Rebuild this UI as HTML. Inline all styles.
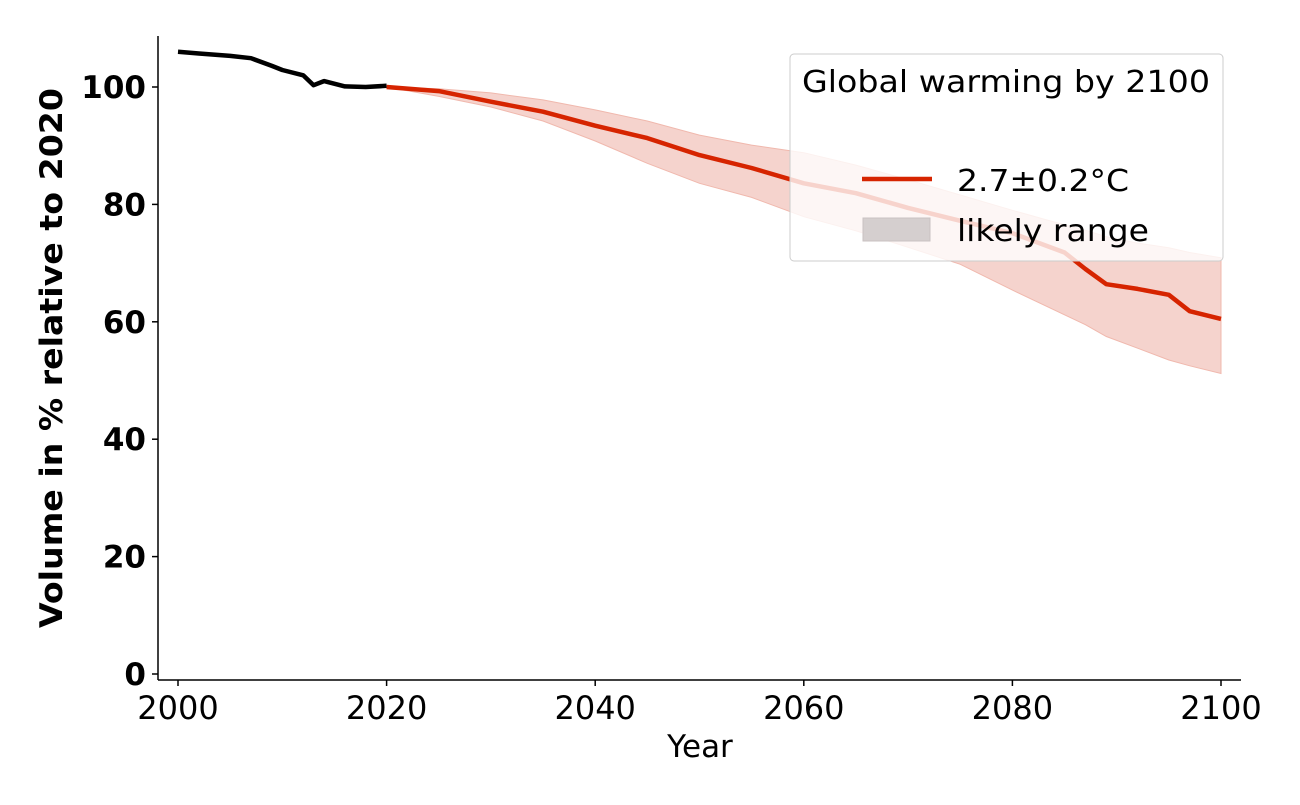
<!DOCTYPE html>
<html><head><meta charset="utf-8"><style>
body{margin:0;background:#fff}
svg text{font-family:"DejaVu Sans","Liberation Sans",sans-serif}
</style></head><body>
<svg id="chart" width="1300" height="800" xmlns="http://www.w3.org/2000/svg">
<g id="plot"></g>
<line x1="158" y1="36" x2="158" y2="680" stroke="#000" stroke-width="1.5"/>
<line x1="158" y1="680" x2="1241" y2="680" stroke="#000" stroke-width="1.5"/>
<g id="ticks"></g>
<text x="700" y="757" font-size="31" text-anchor="middle">Year</text>
<text transform="translate(62,358) rotate(-90)" font-size="31" font-weight="bold" text-anchor="middle" textLength="540" lengthAdjust="spacingAndGlyphs">Volume in % relative to 2020</text>
<g>
<rect x="790" y="54" width="433" height="207" rx="4" fill="#fff" fill-opacity="0.8" stroke="#ccc" stroke-width="1"/>
<text x="802" y="92" font-size="30" textLength="408" lengthAdjust="spacingAndGlyphs">Global warming by 2100</text>
<line x1="862" y1="179" x2="932" y2="179" stroke="#d62400" stroke-width="4.5"/>
<text x="957" y="191" font-size="30" textLength="172" lengthAdjust="spacingAndGlyphs">2.7±0.2°C</text>
<rect x="863" y="218" width="67" height="23" fill="#d5cfcf" stroke="#c9c2c2"/>
<text x="957" y="241" font-size="30" textLength="192" lengthAdjust="spacingAndGlyphs">likely range</text>
</g>
</svg>
<script>
const histYears=[2000,2002,2005,2007,2009,2010,2012,2013,2014,2016,2018,2020];
const histVals=[106,105.7,105.3,104.9,103.6,102.9,102,100.3,101,100.1,100,100.2];
const projYears=[2020,2025,2030,2035,2040,2045,2050,2055,2060,2065,2070,2075,2080,2085,2087,2089,2092,2095,2097,2100];
const projMedian=[100,99.3,97.5,95.8,93.4,91.3,88.4,86.2,83.6,81.9,79.4,77.2,75.1,71.8,69,66.4,65.6,64.6,61.8,60.5];
const projLower=[100,98.4,96.6,94.2,90.8,87,83.6,81.2,77.9,75.5,72.7,69.8,65.4,61.2,59.5,57.5,55.5,53.5,52.5,51.2];
const projUpper=[100,99.7,99,97.8,96.1,94.2,91.8,90.1,88.8,86.7,84.2,81.6,79,76.5,75.6,74.5,73.4,72.6,71.8,70.9];
const xTicks=[2000,2020,2040,2060,2080,2100];
const yTicks=[0,20,40,60,80,100];
const X=y=>178+(y-2000)*10.43;
const Y=v=>674-v*5.87;
const NS='http://www.w3.org/2000/svg';
const plot=document.getElementById('plot'),ticks=document.getElementById('ticks');
function pts(xs,vs){return xs.map((x,i)=>X(x).toFixed(1)+','+Y(vs[i]).toFixed(1)).join(' ');}
const band=document.createElementNS(NS,'polygon');


band.setAttribute('points',pts(projYears,projUpper)+' '+pts(projYears.slice().reverse(),projLower.slice().reverse()));
band.setAttribute('fill','#f5d3cd');band.setAttribute('stroke','#f0b8ad');band.setAttribute('stroke-width','1');
plot.appendChild(band);
const hist=document.createElementNS(NS,'polyline');


hist.setAttribute('points',pts(histYears,histVals));
hist.setAttribute('fill','none');hist.setAttribute('stroke','#000');hist.setAttribute('stroke-width','4.5');hist.setAttribute('stroke-linejoin','round');
plot.appendChild(hist);
const med=document.createElementNS(NS,'polyline');


med.setAttribute('points',pts(projYears,projMedian));
med.setAttribute('fill','none');med.setAttribute('stroke','#d62400');med.setAttribute('stroke-width','4.5');med.setAttribute('stroke-linejoin','round');
plot.appendChild(med);
xTicks.forEach(t=>{
  const l=document.createElementNS(NS,'line');
  
  
  l.setAttribute('x1',X(t));l.setAttribute('x2',X(t));l.setAttribute('y1',680);l.setAttribute('y2',686);l.setAttribute('stroke','#000');l.setAttribute('stroke-width','1.5');
  ticks.appendChild(l);
  const tx=document.createElementNS(NS,'text');
  
  
  tx.setAttribute('x',X(t));tx.setAttribute('y',719);tx.setAttribute('font-size','32');tx.setAttribute('text-anchor','middle');
  tx.textContent=t;ticks.appendChild(tx);
});
yTicks.forEach(t=>{
  const l=document.createElementNS(NS,'line');
  
  
  l.setAttribute('x1',152);l.setAttribute('x2',158);l.setAttribute('y1',Y(t));l.setAttribute('y2',Y(t));l.setAttribute('stroke','#000');l.setAttribute('stroke-width','1.5');
  ticks.appendChild(l);
  const tx=document.createElementNS(NS,'text');
  
  
  tx.setAttribute('x',146);tx.setAttribute('y',Y(t)+11);tx.setAttribute('font-size','31');tx.setAttribute('font-weight','bold');tx.setAttribute('text-anchor','end');
  tx.textContent=t;ticks.appendChild(tx);
});
</script>
</body></html>
